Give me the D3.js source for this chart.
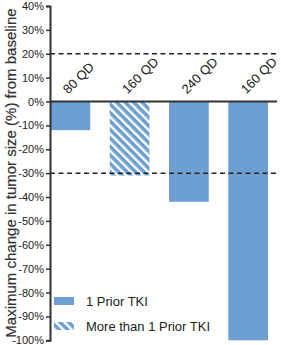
<!DOCTYPE html>
<html><head><meta charset="utf-8">
<script src="https://cdn.jsdelivr.net/npm/d3@7"></script>
<style>body{margin:0;background:#fff}svg{display:block}</style>
</head><body>
<svg id="c" width="281" height="345"></svg>
<script>
const categories = ["80 QD", "160 QD", "240 QD", "160 QD"];
const values = [-12, -31, -42, -100];
const groups = ["1 Prior TKI", "More than 1 Prior TKI", "1 Prior TKI", "1 Prior TKI"];
const yTicks = [40, 30, 20, 10, 0, -10, -20, -30, -40, -50, -60, -70, -80, -90, -100];
const refLines = [20, -30];
const legendItems = ["1 Prior TKI", "More than 1 Prior TKI"];

const svg = d3.select("#c");
const blue = "#6d9fd3";
const defs = svg.append("defs");
const pat = defs.append("pattern").attr("id","hatch").attr("patternUnits","userSpaceOnUse")
  .attr("width",6).attr("height",6).attr("patternTransform","rotate(-45)");
pat.append("rect").attr("width",6).attr("height",6).attr("fill",blue);
pat.append("rect").attr("width",2.4).attr("height",6).attr("fill","#fff");

const y = d3.scaleLinear().domain([-100, 40]).range([340.3, 6]);
const x = d3.scaleBand().domain(d3.range(categories.length)).range([50.5, 268]).paddingInner(0.33).paddingOuter(0);

const fill = g => g === "1 Prior TKI" ? blue : "url(#hatch)";

// bars
svg.append("g").selectAll("rect").data(values).join("rect")
  .attr("x", (d,i) => x(i)).attr("width", x.bandwidth())
  .attr("y", y(0)).attr("height", d => y(d) - y(0))
  .attr("fill", (d,i) => fill(groups[i]));

// ref lines
svg.append("g").selectAll("line").data(refLines).join("line")
  .attr("x1", 50).attr("x2", 277).attr("y1", d => y(d)).attr("y2", d => y(d))
  .attr("stroke", "#222").attr("stroke-width", 1.5).attr("stroke-dasharray", "5,3.5");

// zero line
svg.append("line").attr("x1", 50).attr("x2", 277).attr("y1", y(0)).attr("y2", y(0))
  .attr("stroke", "#333").attr("stroke-width", 2);

// y axis
const ax = svg.append("g").attr("transform", "translate(50,0)")
  .call(d3.axisLeft(y).tickValues(yTicks).tickFormat(d => d + "%").tickSize(4).tickPadding(2));
ax.select(".domain").attr("stroke", "#333").attr("stroke-width", 2);
ax.selectAll(".tick line").attr("stroke", "#333").attr("stroke-width", 1.5);
ax.selectAll(".tick text").attr("fill", "#222").attr("font-size", 11)
  .attr("font-family", "Liberation Sans Narrow, Arial Narrow, Liberation Sans, sans-serif");

// category labels
svg.append("g").selectAll("text").data(categories).join("text")
  .attr("transform", (d,i) => `translate(${x(i) + x.bandwidth()/2 - 2},${y(0) - 7}) rotate(-45)`)
  .attr("font-family", "Liberation Sans, Arial, sans-serif").attr("font-size", 13)
  .attr("fill", "#222").text(d => d);

// y title
svg.append("text").attr("transform", `translate(16,173) rotate(-90)`)
  .attr("text-anchor", "middle").attr("font-family", "Liberation Sans, Arial, sans-serif")
  .attr("font-size", 15).attr("fill", "#333").attr("stroke", "#333").attr("stroke-width", 0.2)
  .text("Maximum change in tumor size (%) from baseline");

// legend
const lg = svg.append("g").selectAll("g").data(legendItems).join("g")
  .attr("transform", (d,i) => `translate(54,${297 + i*25})`);
lg.append("rect").attr("width", 20).attr("height", 8).attr("fill", d => fill(d));
lg.append("text").attr("x", 32).attr("y", 9).attr("font-family", "Liberation Sans, Arial, sans-serif")
  .attr("font-size", 13).attr("fill", "#222").text(d => d);
</script>
</body></html>
